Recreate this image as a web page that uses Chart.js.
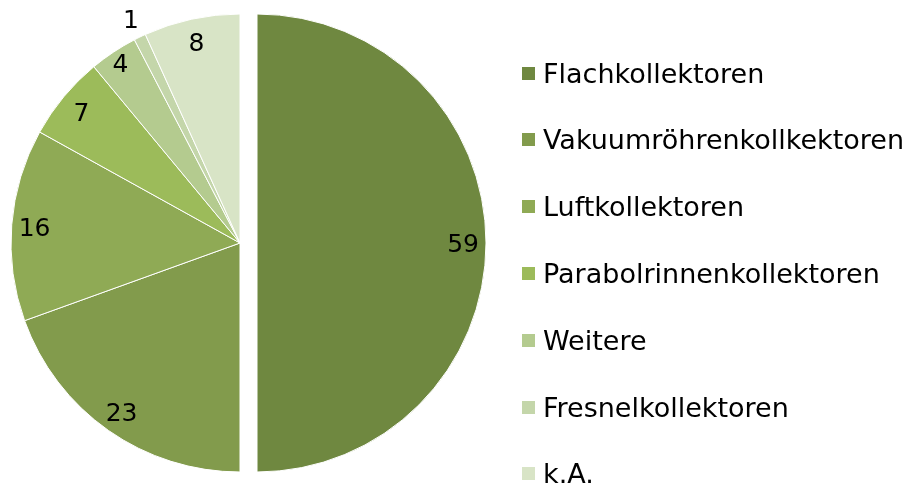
<!DOCTYPE html>
<html>
<head>
<meta charset="utf-8">
<script src="https://cdn.jsdelivr.net/npm/chart.js@4"></script>
<style>
  html, body { margin: 0; padding: 0; background: #fff; }
  #wrap { position: relative; width: 911px; height: 489px; }
  #chartBox { position: absolute; left: 0; top: 0; width: 911px; height: 489px; }
  #legend { position: absolute; left: 0; top: 0; width: 911px; height: 489px; pointer-events: none; }
  .item { position: absolute; left: 522px; height: 30px; display: flex; align-items: center;
          font-family: "DejaVu Sans", Verdana, sans-serif; font-size: 27px; color: #000; white-space: nowrap; }
  .box { width: 13px; height: 13px; margin-right: 8px; }
</style>
</head>
<body>
<div id="wrap">
  <div id="chartBox"><canvas id="chartId"></canvas></div>
  <div id="legend"></div>
</div>
<script>
// data
const categories = ["Flachkollektoren", "Vakuumröhrenkollkektoren", "Luftkollektoren",
  "Parabolrinnenkollektoren", "Weitere", "Fresnelkollektoren", "k.A."];
const counts = [59, 23, 16, 7, 4, 1, 8];
const sliceColors = ["#6f8840", "#829b4c", "#8faa55", "#9cbb5a", "#b4cb8f", "#c4d6aa", "#d8e4c6"];

const explodeGap = 17;   // first slice pulled out

// draw arcs ourselves so the pulled-out half keeps its radius
const explodePlugin = {
  id: 'explode',
  beforeDatasetDraw(chart, args) {
    const ctx = chart.ctx;
    args.meta.data.forEach((arc, i) => {
      ctx.save();
      if (i === 0) {
        let mid = (arc.startAngle + arc.endAngle) / 2;
        ctx.translate(Math.cos(mid) * explodeGap, Math.sin(mid) * explodeGap);
      }
      arc.draw(ctx);
      ctx.restore();
    });
    return false;
  }
};

// value labels inside the slices (tiny ones outside)
const valueLabels = {
  id: 'valueLabels',
  afterDatasetsDraw(chart) {
    const ctx = chart.ctx;
    const meta = chart.getDatasetMeta(0);
    const total = counts.reduce((a, b) => a + b, 0);
    const fontSize = 25;
    ctx.save();
    ctx.font = fontSize + 'px "DejaVu Sans", Verdana, sans-serif';
    ctx.fillStyle = '#000';
    ctx.textAlign = 'center';
    ctx.textBaseline = 'alphabetic';
    meta.data.forEach((arc, i) => {
      let mid = (arc.startAngle + arc.endAngle) / 2;
      let share = counts[i] / total;
      let k = share < 0.02 ? 1.09 : (share < 0.05 ? 0.945 : 0.9);
      let r = arc.outerRadius * k;
      let cx = arc.x, cy = arc.y;
      if (i === 0) {
        cx += Math.cos(mid) * explodeGap;
        cy += Math.sin(mid) * explodeGap;
      }
      // centre the digits on the point (cap height ~0.73em)
      ctx.fillText(String(counts[i]), cx + Math.cos(mid) * r, cy + Math.sin(mid) * r + fontSize * 0.365);
    });
    ctx.restore();
  }
};

var chrt = document.getElementById("chartId").getContext("2d");
window.pieChart = new Chart(chrt, {
  type: 'pie',
  data: {
    labels: categories,
    datasets: [{
      data: counts,
      backgroundColor: sliceColors,
      borderColor: '#ffffff',
      borderWidth: 1
    }]
  },
  options: {
    responsive: true,
    maintainAspectRatio: false,
    animation: false,
    layout: {
      padding: { top: 13.5, bottom: 16.5, left: 10.5, right: 441.5 }
    },
    plugins: {
      legend: { display: false },
      tooltip: { enabled: false }
    }
  },
  plugins: [explodePlugin, valueLabels]
});

// legend on the right
var legend = document.getElementById('legend');
var temp = "";
categories.forEach((name, i) => {
  let top = 73 + i * 66.8 - 15;
  temp += `<div class="item" style="top:${top}px"><span class="box" style="background:${sliceColors[i]}"></span>${name}</div>`;
});
legend.innerHTML = temp;
</script>
</body>
</html>
